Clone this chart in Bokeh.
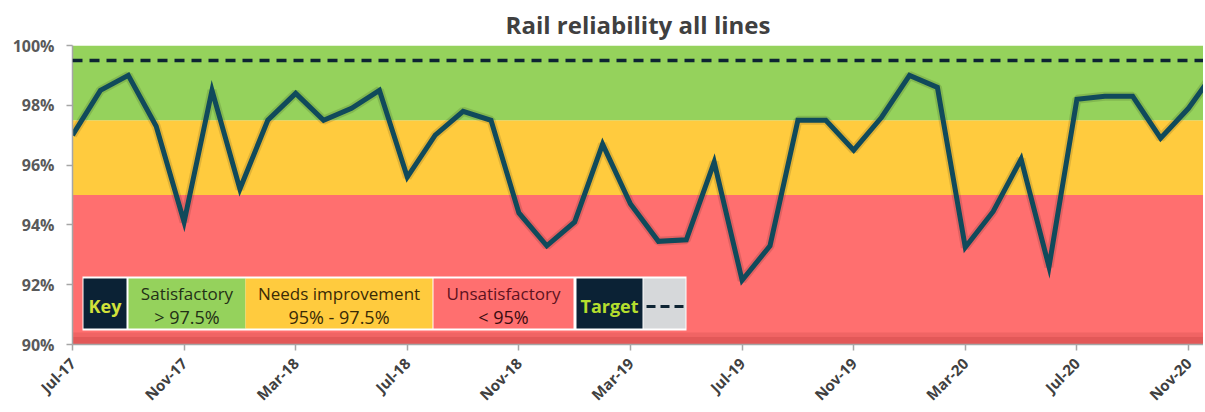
import math
import pandas as pd
from bokeh.plotting import figure
from bokeh.models import Range1d, FixedTicker, PrintfTickFormatter, BoxAnnotation, Span, Label
from bokeh.embed import file_html
from bokeh.resources import INLINE

# ---------------- data ----------------
months = list(pd.date_range("2017-07-01", periods=42, freq="MS").strftime("%b-%y"))
reliability = [97.0, 98.5, 99.0, 97.3, 94.1, 98.5, 95.2, 97.5, 98.4, 97.5, 97.9, 98.5,
               95.6, 97.0, 97.8, 97.5, 94.4, 93.3, 94.1, 96.7, 94.7, 93.45, 93.5, 96.1,
               92.15, 93.3, 97.5, 97.5, 96.5, 97.6, 99.0, 98.6, 93.25, 94.45, 96.2, 92.6,
               98.2, 98.3, 98.3, 96.9, 97.9, 99.2]
tick_labels = ["Jul-17", "Nov-17", "Mar-18", "Jul-18", "Nov-18", "Mar-19",
               "Jul-19", "Nov-19", "Mar-20", "Jul-20", "Nov-20"]
y_ticks = [90, 92, 94, 96, 98, 100]
target = 99.5
band_edges = [90, 95, 97.5, 100]
band_colors = ["#FF6F6F", "#FFCB3E", "#95D25C"]
legend_cells = [("Key", ""), ("Satisfactory", "> 97.5%"), ("Needs improvement", "95% - 97.5%"),
                ("Unsatisfactory", "< 95%"), ("Target", "")]

# ---------------- geometry (style) ----------------
FW, FH = 1131, 299
PX_PER_MONTH = 27.9
XMAX = FW / PX_PER_MONTH
FL, FT = 72, 45  # page position of frame

def X(px):
    return (px - FL) / FW * XMAX

def Y(py):
    return 100 - (py - FT) / FH * 10

x = list(range(len(reliability)))
tick_pos = [months.index(t) for t in tick_labels]

p = figure(frame_width=FW, frame_height=FH, x_range=Range1d(0, XMAX), y_range=Range1d(90, 100),
           output_backend="svg", toolbar_location=None, min_border_left=72, min_border_right=0,
           min_border_top=37, min_border_bottom=4, background_fill_color="white",
           border_fill_color="white", outline_line_color=None)

p.title.text = "Rail reliability all lines"
p.title.align = "center"
p.title.text_font = "Open Sans"
p.title.text_font_size = "24px"
p.title.text_font_style = "bold"
p.title.text_color = "#404040"

p.xgrid.visible = False
p.ygrid.visible = False

# bands
for lo, hi, c in zip(band_edges[:-1], band_edges[1:], band_colors):
    p.add_layout(BoxAnnotation(bottom=lo, top=hi, fill_color=c, fill_alpha=1,
                               line_color=None, level="underlay"))
# darker strip at bottom (3D look)
p.add_layout(BoxAnnotation(bottom=band_edges[0], top=Y(336), fill_color="#E25858", fill_alpha=1,
                           line_color=None, level="underlay"))
p.add_layout(BoxAnnotation(bottom=Y(336), top=Y(332), fill_color="#F06464", fill_alpha=1,
                           line_color=None, level="underlay"))

p.add_layout(Span(location=target, dimension="width", line_color="#0E2433",
                  line_width=3.5, line_dash="10 7"))

p.line(x, reliability, line_color="#000000", line_alpha=0.12, line_width=9)
p.line(x, reliability, line_color="#104A5B", line_width=5, line_join="miter")

# axes
p.yaxis.ticker = FixedTicker(ticks=y_ticks)
p.yaxis.formatter = PrintfTickFormatter(format="%d%%")
p.xaxis.ticker = FixedTicker(ticks=tick_pos)
p.xaxis.major_label_overrides = {pos: lab for pos, lab in zip(tick_pos, tick_labels)}
p.xaxis.major_label_orientation = math.pi / 4
for ax in (p.xaxis, p.yaxis):
    ax.axis_line_color = "#A6A6A6"
    ax.axis_line_width = 1.5
    ax.major_tick_line_color = "#A6A6A6"
    ax.major_tick_line_width = 1.5
    ax.major_tick_out = 6
    ax.major_tick_in = 0
    ax.minor_tick_line_color = None
    ax.major_label_text_font = "Open Sans"
    ax.major_label_text_font_style = "bold"
p.yaxis.major_label_text_font_size = "16px"
p.yaxis.major_label_text_color = "#595959"
p.yaxis.major_label_standoff = 12
p.xaxis.major_label_text_font_size = "15px"
p.xaxis.major_label_text_color = "#404040"
p.xaxis.major_label_standoff = 10

# ---------------- key box (drawn as glyphs on top of the data line) ----------------
def box(l, r, t, b, color):
    p.quad(left=X(l), right=X(r), top=Y(t), bottom=Y(b),
           fill_color=color, fill_alpha=1, line_color=None)

box(82, 686, 276, 330, "#FFFFFF")
cells = [(83, 126, "#0B2235"), (128, 245, band_colors[2]), (245, 432, band_colors[1]),
         (433, 573, band_colors[0]), (576, 642, "#0B2235"), (643, 685, "#D6D8DA")]
for l, r, c in cells:
    box(l, r, 278, 328, c)

text_colors = [("#D2E23A", "#D2E23A"), ("#233016", "#233016"), ("#3A2A05", "#3A2A05"),
               ("#5E1220", "#3A0C10"), ("#B5DE2E", "#B5DE2E")]
for (l, r, _), (t1, t2), (c1, c2) in zip(cells[:5], legend_cells, text_colors):
    cx = X((l + r) / 2)
    if t2 == "":
        p.add_layout(Label(x=cx, y=Y(305), text=t1, text_align="center", text_baseline="middle",
                           text_font="Open Sans", text_font_size="18px", text_font_style="bold",
                           text_color=c1))
    else:
        p.add_layout(Label(x=cx, y=Y(293), text=t1, text_align="center", text_baseline="middle",
                           text_font="Open Sans", text_font_size="17px", text_color=c1))
        p.add_layout(Label(x=cx, y=Y(316), text=t2, text_align="center", text_baseline="middle",
                           text_font="Open Sans", text_font_size="18px", text_color=c2))

p.line([X(646), X(684)], [Y(306)] * 2, line_color="#0E2433", line_width=3, line_dash="9 5")

open("out.html", "w").write(file_html(p, INLINE))
